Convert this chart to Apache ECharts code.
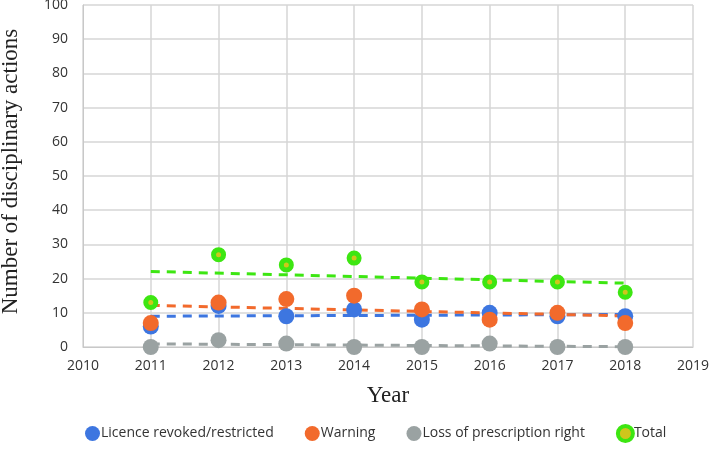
<!DOCTYPE html>
<html><head><meta charset="utf-8">
<script src="https://cdn.jsdelivr.net/npm/echarts@6/dist/echarts.min.js"></script>
<style>html,body{margin:0;padding:0;background:#fff}#c{width:709px;height:452px}</style>
</head><body><div id="c"></div>
<script>
var years = [2011, 2012, 2013, 2014, 2015, 2016, 2017, 2018];
var licence = [6, 12, 9, 11, 8, 10, 9, 9];
var warning = [7, 13, 14, 15, 11, 8, 10, 7];
var loss = [0, 2, 1, 0, 0, 1, 0, 0];
var total = [13, 27, 24, 26, 19, 19, 19, 16];
var names = ['Licence revoked/restricted', 'Warning', 'Loss of prescription right', 'Total'];
var colors = ['#3d76e0', '#f26a2c', '#9aa2a2', '#3de612'];

function pairs(v){ return years.map(function(y,i){ return [y, v[i]]; }); }
function trend(v){
  var n = years.length, sx=0, sy=0, sxy=0, sxx=0;
  for (var i=0;i<n;i++){ sx+=years[i]; sy+=v[i]; sxy+=years[i]*v[i]; sxx+=years[i]*years[i]; }
  var b = (n*sxy - sx*sy)/(n*sxx - sx*sx), a = (sy - b*sx)/n;
  var x0 = years[0], x1 = years[n-1];
  return [[x0, a+b*x0], [x1, a+b*x1]];
}
var all = [licence, warning, loss, total];
var series = [];
all.forEach(function(v, k){
  series.push({
    name: names[k], type: 'line', data: trend(v), symbol: 'none', silent: true,
    lineStyle: {color: colors[k], width: 3, type: [9, 7]}, z: 2
  });
});
all.forEach(function(v, k){
  var s = {
    name: names[k], type: 'scatter', data: pairs(v), symbol: 'circle', symbolSize: 16,
    itemStyle: {color: colors[k], opacity: 1}, z: 3
  };
  if (k === 3) { s.itemStyle = {color: '#cfc61c', borderColor: '#3de612', borderWidth: 5, opacity: 1}; s.symbolSize = 10; }
  series.push(s);
});

var chart = echarts.init(document.getElementById('c'));
chart.setOption({
  animation: false,
  grid: {left: 83, right: 16, top: 5, bottom: 105, outerBoundsMode: 'none', containLabel: false},
  legend: {
    data: names.map(function(n,k){ return {name: n, icon: 'circle', itemStyle: k===3 ? {color:'#cfc61c', borderColor:'#3de612', borderWidth:4} : {color: colors[k]}}; }),
    bottom: 4, left: 80, itemWidth: 15, itemHeight: 15, itemGap: 31,
    textStyle: {fontFamily: 'Open Sans', fontSize: 14, color: '#333', padding: [0,0,0,-4]}
  },
  xAxis: {
    type: 'value', min: 2010, max: 2019, interval: 1,
    name: 'Year', nameLocation: 'middle', nameGap: 37,
    nameTextStyle: {fontFamily: 'Liberation Serif', fontSize: 23, color: '#222'},
    axisLine: {show: true, lineStyle: {color: '#c8c8c8'}},
    axisTick: {show: false},
    axisLabel: {fontFamily: 'Open Sans', fontSize: 14, color: '#333', margin: 12, formatter: function(v){ return String(v); }},
    splitLine: {show: true, lineStyle: {color: '#d6d6d6', width: 1.5}}
  },
  yAxis: {
    type: 'value', min: 0, max: 100, interval: 10,
    name: 'Number of disciplinary actions', nameLocation: 'middle', nameGap: 61,
    nameTextStyle: {fontFamily: 'Liberation Serif', fontSize: 23, color: '#222', padding: [0, 0, 0, 9]},
    axisLine: {show: true, lineStyle: {color: '#c8c8c8'}},
    axisTick: {show: false},
    axisLabel: {fontFamily: 'Open Sans', fontSize: 14, color: '#333', margin: 15},
    splitLine: {show: true, lineStyle: {color: '#d6d6d6', width: 1.5}}
  },
  series: series
});
</script></body></html>
